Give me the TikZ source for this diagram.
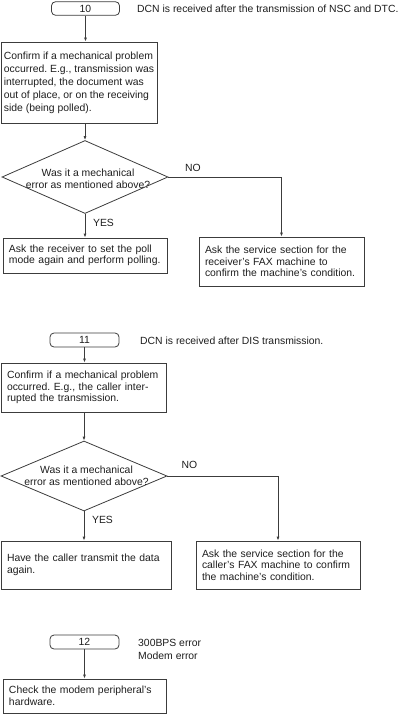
\documentclass[tikz,border=0pt]{standalone}
\usepackage{fontspec}
\setmainfont{Liberation Sans}
\usetikzlibrary{arrows.meta,shapes.geometric}
\definecolor{ink}{HTML}{1E1E1E}
\definecolor{edgegray}{HTML}{3C3C3C}
\frenchspacing
\tikzset{
  >={Latex[length=4pt,width=3pt]},
  figtext/.style={font=\fontsize{10.4}{11.5}\selectfont, text=ink},
  termbox/.style={figtext, draw=edgegray, line width=0.8pt, rounded corners=4pt,
                  minimum width=68pt, minimum height=13.5pt, inner sep=0pt},
  stepbox/.style={figtext, draw=edgegray, line width=0.8pt, align=left,
                  inner xsep=6pt, inner ysep=0pt},
  decision/.style={diamond, draw=edgegray, line width=0.8pt, inner sep=0pt,
                   minimum width=166pt, minimum height=72pt},
  qtext/.style={figtext, align=center, inner sep=0pt},
  note/.style={figtext, anchor=west, align=left, inner sep=0pt},
  flow/.style={->, draw=edgegray, line width=0.8pt},
}

\begin{document}
\begin{tikzpicture}[x=1pt, y=-1pt, line join=miter]
\useasboundingbox (0,0) rectangle (400,714);

% ===================== 10: DCN after NSC and DTC =====================
\node[termbox] (t10) at (85.5,8.5) {10};
\node[note] (note10) at (137,9) {DCN is received after the transmission of NSC and DTC.};
\node[stepbox, inner xsep=2pt, minimum width=156pt, minimum height=81pt,
      font=\fontsize{10.4}{13}\selectfont] (c10) at (79,82.5)
  {Confirm if a mechanical problem\\occurred. E.g., transmission was\\interrupted, the document was\\out of place, or on the receiving\\side (being polled).};
\node[decision, minimum height=73pt] (q10) at (85,177) {};
\node[qtext] (q10t) at (88,179) {Was it a mechanical\\error as mentioned above?};
\node[stepbox, text width=152pt, minimum height=35pt] (y10) at (85,255.5)
  {Ask the receiver to set the poll\\mode again and perform polling.};
\node[stepbox, text width=153pt, minimum height=49pt] (n10) at (281.5,261.5)
  {Ask the service section for the\\receiver's FAX machine to\\confirm the machine's condition.};
\node[figtext, inner sep=0pt] (no10) at (193,168) {NO};
\node[figtext, inner sep=0pt] (yes10) at (103.5,223) {YES};

\draw[flow] (t10.south) -- (t10.south |- c10.north);
\draw[flow] (c10.south -| q10.north) -- (q10.north);
\draw[flow] (q10.south) -- (q10.south |- y10.north);
\draw[flow] (q10.east) -| (n10.north);

% ===================== 11: DCN after DIS =====================
\node[termbox, minimum width=69pt, minimum height=14pt] (t11) at (84.5,340) {11};
\node[note] (note11) at (140,341) {DCN is received after DIS transmission.};
\node[stepbox, text width=153pt, minimum height=49pt] (c11) at (83.5,387.5)
  {Confirm if a mechanical problem\\occurred. E.g., the caller inter-\\rupted the transmission.};
\node[decision, minimum height=70pt] (q11) at (84,476) {};
\node[qtext] (q11t) at (86.5,476) {Was it a mechanical\\error as mentioned above?};
\node[stepbox, text width=158pt, minimum height=48pt] (y11) at (86,565)
  {Have the caller transmit the data\\again.};
\node[stepbox, text width=152pt, minimum height=48pt] (n11) at (278,565)
  {Ask the service section for the\\caller's FAX machine to confirm\\the machine's condition.};
\node[figtext, inner sep=0pt] (no11) at (189.5,465) {NO};
\node[figtext, inner sep=0pt] (yes11) at (102.5,520) {YES};

\draw[flow] (t11.south) -- (t11.south |- c11.north);
\draw[flow] (c11.south -| q11.north) -- (q11.north);
\draw[flow] (q11.south) -- (q11.south |- y11.north);
\draw[flow] (q11.east) -| (n11.north);

% ===================== 12: modem error =====================
\node[termbox, minimum width=69pt, minimum height=14pt] (t12) at (84.5,642) {12};
\node[note, font=\fontsize{10.4}{13}\selectfont] (note12) at (138,649.5)
  {300BPS error\\Modem error};
\node[stepbox, text width=151pt, minimum height=34pt] (c12) at (84.5,696)
  {Check the modem peripheral's\\hardware.};

\draw[flow] (t12.south) -- (t12.south |- c12.north);

\end{tikzpicture}
\end{document}
